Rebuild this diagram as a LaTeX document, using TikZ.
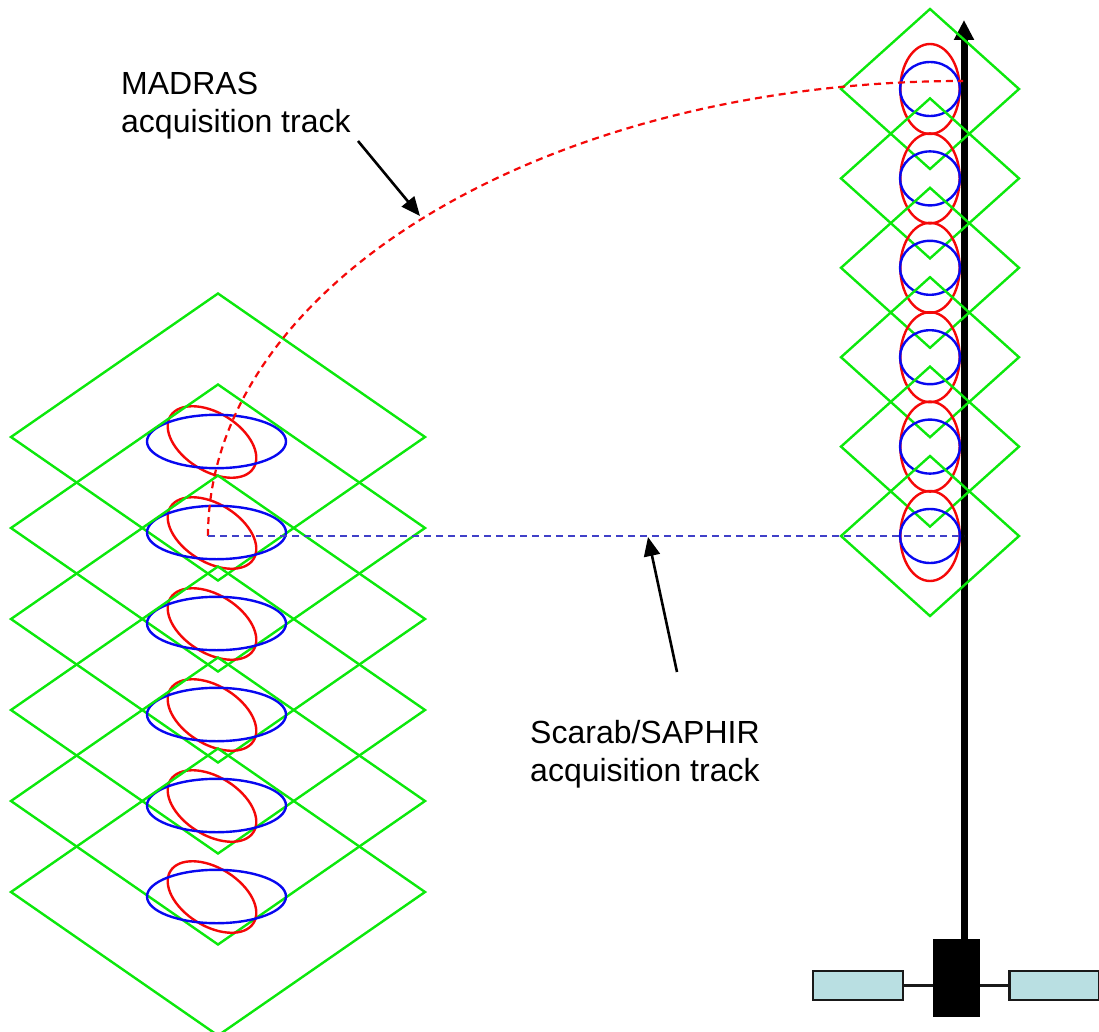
\documentclass[tikz,border=0pt]{standalone}
\usepackage{fontspec}
\setmainfont{Liberation Sans}
\usetikzlibrary{arrows.meta}
\definecolor{gline}{HTML}{0CE80C}
\definecolor{rline}{HTML}{F40808}
\definecolor{bline}{HTML}{0808F0}
\definecolor{bdash}{HTML}{4040C8}
\definecolor{panel}{HTML}{B9DFE2}
\tikzset{
  footprint/.style={line width=2.4pt,line join=miter},
  label text/.style={font=\fontsize{32}{38}\selectfont,align=left,anchor=north west,inner sep=0pt,text=black},
  pointer/.style={line width=2.6pt,-{Triangle[length=19pt,width=16pt]}},
  trackdash/.style={line width=2.2pt,dash pattern=on 7pt off 5pt},
  panelbox/.style={draw=black!90,fill=panel,line width=2.2pt},
}
\begin{document}
\begin{tikzpicture}[x=1pt,y=-1pt]
\useasboundingbox (0,0) rectangle (1099,1032);
\clip (0,0) rectangle (1099,1032);
% flight direction and satellite
\coordinate (busTop) at (964,941);
\coordinate (dirTip) at (964,20);
\draw[line width=7pt,-{Triangle[length=20pt,width=19pt,sep=0pt]}] (busTop) -- (dirTip);
\node[fill=black,inner sep=0pt,minimum width=47pt,minimum height=78pt] (bus) at (956.5,978) {};
\node[panelbox,inner sep=0pt,minimum width=90pt,minimum height=29pt] (panelL) at (858,985.5) {};
\node[panelbox,inner sep=0pt,minimum width=90pt,minimum height=29pt] (panelR) at (1054.5,985.5) {};
\draw[line width=2.2pt,black!90] (panelL.east) -- (panelL.east -| bus.west);
\draw[line width=2.2pt,black!90] (bus.east |- panelR.west) -- (panelR.west);
% nadir footprints
\foreach \c in {89,178.4,267.8,357.2,446.6,536}{
  \draw[footprint,gline] (841,\c) -- (930,\c-80) -- (1019,\c) -- (930,\c+80) -- cycle;
  \draw[footprint,rline] (930,\c) ellipse [x radius=29.7,y radius=45];
  \draw[footprint,bline] (930,\c) ellipse [x radius=30,y radius=27];
}
% off-nadir footprints
\foreach \c in {437,528,619,710,801,892}{
  \draw[footprint,gline] (11,\c) -- (218,\c-143.5) -- (425,\c) -- (218,\c+143.5) -- cycle;
  \draw[footprint,rline,rotate around={-32:(212,\c+5)}] (212,\c+5) ellipse [x radius=49,y radius=29];
  \draw[footprint,bline] (216.5,\c+4.5) ellipse [x radius=69.5,y radius=26.7];
}
% tracks
\coordinate (trackStart) at (208,536);
\coordinate (madrasEnd) at (963,81);
\coordinate (scarabEnd) at (964,536);
\draw[trackdash,rline] (trackStart) .. controls (208,285) and (546,81) .. (madrasEnd);
\draw[trackdash,bdash] (trackStart) -- (scarabEnd);
% labels
\node[label text] (madras) at (121,71.5) {MADRAS\\acquisition track};
\node[label text] (scarab) at (530,720.5) {Scarab/SAPHIR\\acquisition track};
\coordinate (madrasFrom) at (358,141);
\coordinate (madrasTo) at (420,216);
\coordinate (scarabFrom) at (677,672);
\coordinate (scarabTo) at (648,537);
\draw[pointer] (madrasFrom) -- (madrasTo);
\draw[pointer] (scarabFrom) -- (scarabTo);
\end{tikzpicture}
\end{document}
